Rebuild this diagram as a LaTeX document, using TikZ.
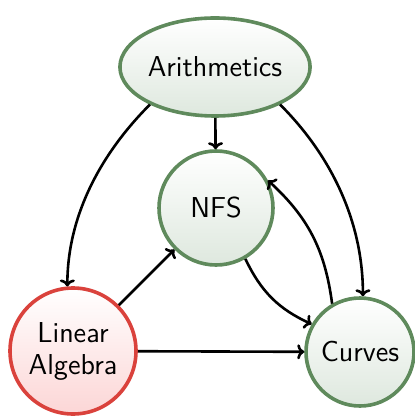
\documentclass[tikz,border=0pt]{standalone}
\usetikzlibrary{shapes.geometric,arrows.meta}
\definecolor{gborder}{RGB}{95,138,92}
\definecolor{gfill}{RGB}{222,232,222}
\definecolor{rborder}{RGB}{218,66,60}
\definecolor{rfill}{RGB}{252,214,214}
\begin{document}
\begin{tikzpicture}[x=0.5pt,y=-0.5pt,
  every node/.style={font=\sffamily\fontsize{14.4}{16}\selectfont, inner sep=0pt, align=center},
  gnode/.style={draw=gborder, line width=1.8pt, top color=white, bottom color=gfill},
  rnode/.style={draw=rborder, line width=1.8pt, top color=white, bottom color=rfill},
  arr/.style={-{To[length=3.5pt,width=7.5pt]}, line width=1.3pt, black}]
\useasboundingbox (0,0) rectangle (415,416);
\node[gnode, ellipse, minimum width=93pt, minimum height=49pt] (ari) at (215,67) {Arithmetics};
\node[gnode, circle, minimum size=57pt] (nfs) at (216,208) {NFS};
\node[rnode, circle, minimum size=63pt] (la) at (73,351) {Linear\\Algebra};
\node[gnode, circle, minimum size=54pt] (cur) at (360,352) {Curves};
\draw[arr] (ari) -- (nfs);
\draw[arr] (ari.-150) to[out=-135,in=90,looseness=0.9] (la.95);
\draw[arr] (ari.-30) to[out=-45,in=90,looseness=0.9] (cur.87);
\draw[arr] (la) -- (nfs);
\draw[arr] (la) -- (cur);
\draw[arr] (nfs.-60) to[bend right=20] (cur.150);
\draw[arr] (cur.120) to[bend right=20] (nfs.28);
\end{tikzpicture}
\end{document}
